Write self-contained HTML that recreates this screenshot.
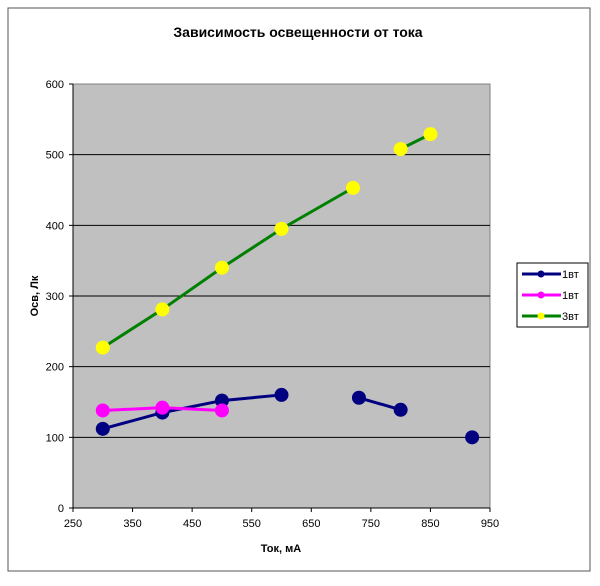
<!DOCTYPE html>
<html><head><meta charset="utf-8"><style>
body{margin:0;background:#fff;width:600px;height:581px;overflow:hidden}
svg text{font-family:"Liberation Sans",Arial,sans-serif;fill:#000}
</style></head><body>
<svg width="600" height="581">
<rect x="8" y="8" width="582" height="563" fill="#fff" stroke="#555"/>
<text x="298" y="37" text-anchor="middle" font-size="14" font-weight="bold">Зависимость освещенности от тока</text>
<rect x="73" y="84" width="417" height="424" fill="#c0c0c0" stroke="#808080"/>
<g id="grid"></g><g id="axes"></g><g id="series"></g>
<text x="281" y="552" text-anchor="middle" font-size="11" font-weight="bold">Ток, мА</text>
<text transform="translate(38,296) rotate(-90)" text-anchor="middle" font-size="11" font-weight="bold">Осв, Лк</text>
<g>
<rect x="517" y="263" width="71" height="64" fill="#fff" stroke="#000"/>
<g><line x1="522" y1="274" x2="561" y2="274" stroke="#000080" stroke-width="3"/><circle cx="541" cy="274" r="3.5" fill="#000080"/><text x="562" y="278" font-size="11">1вт</text></g>
<g><line x1="522" y1="295" x2="561" y2="295" stroke="#ff00ff" stroke-width="3"/><circle cx="541" cy="295" r="3.5" fill="#ff00ff"/><text x="562" y="299" font-size="11">1вт</text></g>
<g><line x1="522" y1="316" x2="561" y2="316" stroke="#008000" stroke-width="3"/><circle cx="541" cy="316" r="3.5" fill="#ffff00"/><text x="562" y="320" font-size="11">3вт</text></g>
</g>
</svg>
<script>
const xTicks=[250,350,450,550,650,750,850,950];
const yTicks=[0,100,200,300,400,500,600];
const blueX=[300,400,500,600,null,730,800,null,920];
const blueY=[112,135,152,160,null,156,139,null,100];
const pinkX=[300,400,500];
const pinkY=[138,142,138];
const greenX=[300,400,500,600,720,null,800,850];
const greenY=[227,281,340,395,453,null,508,529];
const NS='http://www.w3.org/2000/svg';
const sx=v=>73+(v-250)*417/700, sy=v=>508-v*424/600;
function mk(t,a,p){const e=document.createElementNS(NS,t);for(const k in a)e.setAttribute(k,a[k]);p.appendChild(e);return e;}
const g=document.getElementById('grid'),ax=document.getElementById('axes'),se=document.getElementById('series');
yTicks.forEach(v=>{const y=sy(v);
 if(v>0&&v<600){const l=mk('line',{x1:73,x2:490,y1:y,y2:y,stroke:'#000','stroke-width':1},g);
 
 }
 mk('line',{x1:69,x2:73,y1:y,y2:y,stroke:'#000'},ax);
 const t=mk('text',{x:64,y:y+4,'text-anchor':'end','font-size':11},ax);t.textContent=v;
 
 });
xTicks.forEach(v=>{const x=sx(v);
 mk('line',{x1:x,x2:x,y1:508,y2:512,stroke:'#000'},ax);
 const t=mk('text',{x:x,y:527,'text-anchor':'middle','font-size':11},ax);t.textContent=v;
 
 });
mk('line',{x1:73,x2:73,y1:84,y2:508,stroke:'#000'},ax);
mk('line',{x1:73,x2:490,y1:508,y2:508,stroke:'#000'},ax);
function series(X,Y,col,fill,name){
 const grp=mk('g',{},se);
 
 
 let d='',pen=false;
 X.forEach((x,i)=>{if(x==null){pen=false;return;}d+=(pen?'L':'M')+sx(x)+' '+sy(Y[i]);pen=true;});
 mk('path',{d:d,fill:'none',stroke:col,'stroke-width':3},grp);
 X.forEach((x,i)=>{if(x==null)return;const c=mk('circle',{cx:sx(x),cy:sy(Y[i]),r:7,fill:fill},grp);
 
 });
}
series(greenX,greenY,'#008000','#ffff00','series-3w');
series(blueX,blueY,'#000080','#000080','series-1w-a');
series(pinkX,pinkY,'#ff00ff','#ff00ff','series-1w-b');
</script>
</body></html>
